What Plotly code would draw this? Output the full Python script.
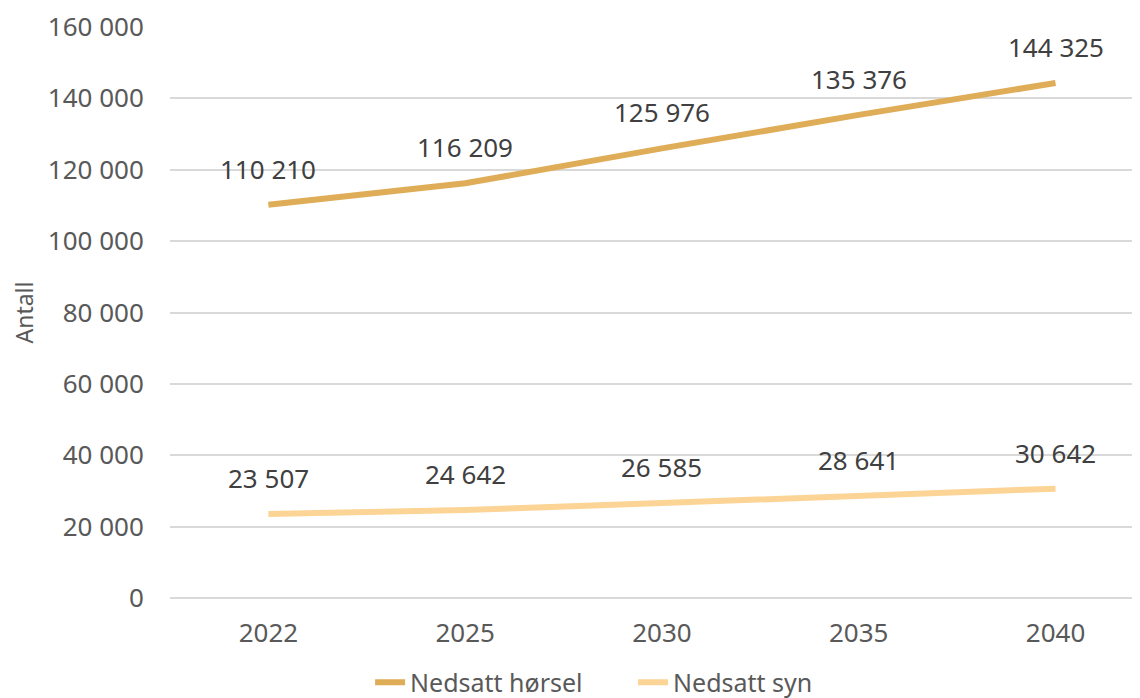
import plotly.graph_objects as go

years = ["2022", "2025", "2030", "2035", "2040"]
horsel = [110210, 116209, 125976, 135376, 144325]
syn = [23507, 24642, 26585, 28641, 30642]
y_ticks = [0, 20000, 40000, 60000, 80000, 100000, 120000, 140000, 160000]

FONT = "Noto Sans, Open Sans, sans-serif"
C1 = "#DFAD58"
C2 = "#FBD496"

def fmt(v):
    return f"{v:,}".replace(",", " ")

fig = go.Figure()
fig.add_trace(go.Scatter(x=years, y=horsel, mode="lines", name="Nedsatt hørsel",
                         line=dict(color=C1, width=6)))
fig.add_trace(go.Scatter(x=years, y=syn, mode="lines", name="Nedsatt syn",
                         line=dict(color=C2, width=6)))

for series in (horsel, syn):
    for i, v in enumerate(series):
        fig.add_annotation(x=i, y=v, xref="x", yref="y", text=fmt(v), showarrow=False,
                           yshift=36, font=dict(family=FONT, size=26, color="#404040"))

fig.update_layout(
    width=1140, height=698,
    paper_bgcolor="white", plot_bgcolor="white",
    margin=dict(l=162, r=0, t=19, b=108, autoexpand=False),
    font=dict(family=FONT, size=25, color="#595959"),
    separators=", ",
    showlegend=True,
    legend=dict(orientation="h", x=0.4735, xanchor="center",
                y=-0.148, yanchor="middle",
                font=dict(family=FONT, size=25, color="#595959"),
                entrywidth=218, entrywidthmode="pixels",
                tracegroupgap=0),
    xaxis=dict(type="category", range=[-0.5, 4.47], showgrid=False, showline=False,
               zeroline=False, ticks="outside", ticklen=12, tickcolor="rgba(0,0,0,0)",
               tickfont=dict(family=FONT, size=26, color="#595959")),
    yaxis=dict(range=[0, 160000], tickvals=y_ticks,
               ticktext=[fmt(v) for v in y_ticks],
               showgrid=True, gridcolor="#D9D9D9", gridwidth=1.5,
               zeroline=True, zerolinecolor="#D9D9D9", zerolinewidth=1.5,
               showline=False, ticks="outside", ticklen=20, tickcolor="rgba(0,0,0,0)",
               tickfont=dict(family=FONT, size=26, color="#595959"),
               title=dict(text="Antall", standoff=16,
                          font=dict(family=FONT, size=23, color="#595959"))),
)

fig.write_html("out.html")
